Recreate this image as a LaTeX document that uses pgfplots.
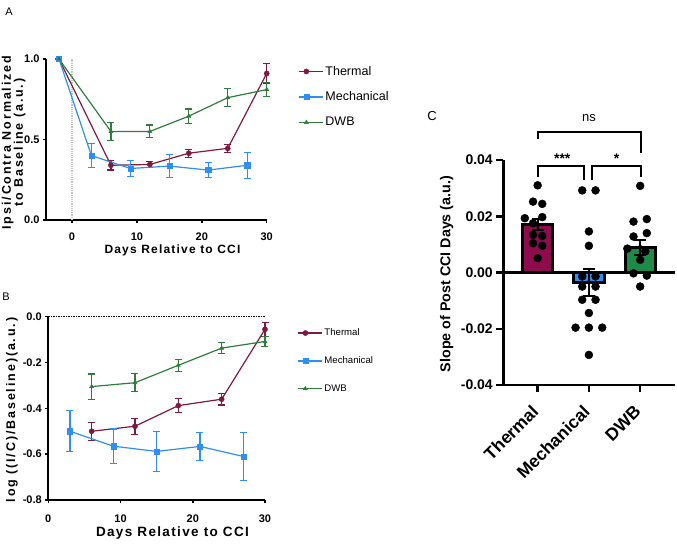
\documentclass[border=0pt]{standalone}
\usepackage{pgfplots}
\pgfplotsset{compat=1.18}
\usepackage{fontspec}
\setmainfont{Liberation Sans}
\newfontfamily\spaced[LetterSpace=15]{Liberation Sans}
\newfontfamily\spacedx[LetterSpace=10]{Liberation Sans}
\definecolor{therm}{HTML}{7D1A3F}
\definecolor{mech}{HTML}{2F8FF0}
\definecolor{dwb}{HTML}{2E7D3C}
\definecolor{thermfill}{HTML}{8E0C4E}
\definecolor{dwbfill}{HTML}{1E8A48}
\pgfplotsset{
  prism/.style={
    scale only axis,
    axis x line*=bottom, axis y line*=left,
    axis line style={line width=2pt, -},
    tick style={line width=1.5pt, black},
    tick align=outside,
    major tick length=3pt,
    /pgf/number format/assume math mode=true,
    ticklabel style={font=\bfseries\fontsize{11}{12}\selectfont},
    clip=false,
  },
  errs/.style={error bars/.cd, y dir=both, y explicit,
    error bar style={line width=1.2pt, color=#1},
    error mark options={rotate=90, mark size=3.5pt, line width=1.2pt, color=#1}},
  thermal/.style={color=therm, line width=1.2pt, mark=*, mark size=2.6pt, mark options={solid, line width=0.4pt}, errs=therm},
  mechanical/.style={color=mech, line width=1.2pt, mark=square*, mark size=2.6pt, mark options={solid, line width=0.4pt}, errs=mech},
  dwbs/.style={color=dwb, line width=1.2pt, mark=triangle*, mark size=2.4pt, mark options={solid, line width=0.4pt}, errs=dwb},
  legimg/.style={legend image code/.code={\draw[mark repeat=2,mark phase=2,##1] plot coordinates {(0pt,0pt) (7.5pt,0pt) (15pt,0pt)}; \path (0pt,0pt) -- (24pt,0pt);}},
}
\begin{document}
\begin{tikzpicture}
\useasboundingbox (0,0) rectangle (677pt,-544pt);
\node[anchor=center, font=\fontsize{11}{12}\selectfont] at (9pt,-12pt) {A};
\node[anchor=center, font=\fontsize{11}{12}\selectfont] at (6pt,-297pt) {B};
\node[anchor=center, font=\fontsize{13}{14}\selectfont] at (432pt,-116pt) {C};

% ---------- Panel A ----------
\begin{axis}[prism, at={(46pt,-220pt)}, anchor=south west, width=220.7pt, height=161pt,
  xmin=-4, xmax=30, ymin=0, ymax=1, xtick={0,10,20,30}, ytick={0,0.5,1},
  yticklabel style={/pgf/number format/fixed, /pgf/number format/fixed zerofill, /pgf/number format/precision=1},
  xticklabel style={yshift=-6pt},
  xlabel={Days Relative to CCI},
  xlabel style={at={(axis description cs:0.573,-0.186)}, anchor=center, font={\spacedx\bfseries\fontsize{12}{13}\selectfont}},
  ylabel={Ipsi/Contra Normalized\\to Baseline (a.u.)},
  ylabel style={at={(axis description cs:-0.147,0.481)}, anchor=center, align=center, font={\spaced\bfseries\fontsize{12.5}{12}\selectfont}},
  legimg, legend cell align=left,
  legend style={at={(axis description cs:1.142,0.969)}, anchor=north west, draw=none, fill=none, inner sep=0pt, row sep=11pt, font=\fontsize{12.5}{14}\selectfont},
]
\addplot[densely dotted, color=gray!45, line width=1.2pt, forget plot] coordinates {(0,0) (0,1)};
\addplot[thermal] coordinates {(-2,1) +- (0,0) (6,0.34) +- (0,0.03) (12,0.345) +- (0,0.02) (18,0.415) +- (0,0.025) (24,0.445) +- (0,0.025) (30,0.91) +- (0,0.06)};
\addlegendentry{Thermal}
\addplot[mechanical] coordinates {(-2,1) +- (0,0) (3,0.40) +- (0,0.075) (9,0.32) +- (0,0.05) (15,0.335) +- (0,0.07) (21,0.31) +- (0,0.045) (27,0.34) +- (0,0.08)};
\addlegendentry{Mechanical}
\addplot[dwbs] coordinates {(-2,1) +- (0,0) (6,0.55) +- (0,0.055) (12,0.55) +- (0,0.04) (18,0.645) +- (0,0.045) (24,0.76) +- (0,0.055) (30,0.81) +- (0,0.045)};
\addlegendentry{DWB}
\end{axis}

% ---------- Panel B ----------
\begin{axis}[prism, at={(48.3pt,-500pt)}, anchor=south west, width=216.7pt, height=183.3pt,
  xmin=0, xmax=30, ymin=-0.8, ymax=0, xtick={0,10,20,30}, ytick={-0.8,-0.6,-0.4,-0.2,0},
  yticklabel style={/pgf/number format/fixed, /pgf/number format/fixed zerofill, /pgf/number format/precision=1},
  xticklabel style={yshift=-8pt},
  xlabel={Days Relative to CCI},
  xlabel style={at={(axis description cs:0.573,-0.18)}, anchor=center, font={\spacedx\bfseries\fontsize{13.5}{14}\selectfont}},
  ylabel={log ((I/C)/Baseline)(a.u.)},
  ylabel style={at={(axis description cs:-0.1675,0.491)}, anchor=center, font={\spaced\bfseries\fontsize{12.5}{13}\selectfont}},
  legimg, legend cell align=left,
  legend style={at={(axis description cs:1.148,0.946)}, anchor=north west, draw=none, fill=none, inner sep=0pt, row sep=15.5pt, font=\fontsize{9.6}{11}\selectfont},
]
\addplot[densely dotted, black, line width=1.5pt, forget plot] coordinates {(0,0) (30,0)};
\addplot[thermal] coordinates {(6,-0.50) +- (0,0.04) (12,-0.478) +- (0,0.035) (18,-0.388) +- (0,0.03) (24,-0.36) +- (0,0.025) (30,-0.055) +- (0,0.03)};
\addlegendentry{Thermal}
\addplot[mechanical] coordinates {(3,-0.50) +- (0,0.09) (9,-0.565) +- (0,0.075) (15,-0.588) +- (0,0.088) (21,-0.566) +- (0,0.062) (27,-0.61) +- (0,0.105)};
\addlegendentry{Mechanical}
\addplot[dwbs] coordinates {(6,-0.305) +- (0,0.055) (12,-0.288) +- (0,0.04) (18,-0.212) +- (0,0.027) (24,-0.137) +- (0,0.025) (30,-0.108) +- (0,0.022)};
\addlegendentry{DWB}
\end{axis}

% ---------- Panel C ----------
\begin{axis}[prism, at={(503.3pt,-385pt)}, anchor=south west, width=171.7pt, height=225pt,
  xmin=-0.67, xmax=2.68, ymin=-0.04, ymax=0.04,
  xtick={0,1,2}, xticklabels={Thermal,Mechanical,DWB},
  ytick={-0.04,-0.02,0,0.02,0.04}, scaled y ticks=false,
  axis line style={line width=2.5pt, -}, tick style={line width=2.5pt, black}, major tick length=7pt,
  yticklabel style={font=\bfseries\fontsize{14}{15}\selectfont, /pgf/number format/fixed, /pgf/number format/fixed zerofill, /pgf/number format/precision=2},
  xticklabel style={yshift=-14pt, rotate=45, anchor=east, font=\bfseries\fontsize{17.5}{18}\selectfont},
  ylabel={Slope of Post CCI Days (a.u.)},
  ylabel style={at={(axis description cs:-0.33,0.493)}, anchor=center, font=\bfseries\fontsize{14.3}{16}\selectfont},
]
\addplot[ybar, bar width=0.59, bar shift=0pt, fill=thermfill, draw=black, line width=3pt] coordinates {(0,0.017)};
\addplot[ybar, bar width=0.59, bar shift=0pt, fill=mech, draw=black, line width=3pt] coordinates {(1,-0.0035)};
\addplot[ybar, bar width=0.59, bar shift=0pt, fill=dwbfill, draw=black, line width=3pt] coordinates {(2,0.009)};
\addplot[black, line width=2.5pt, forget plot] coordinates {(-0.67,0) (2.68,0)};
\addplot[only marks, mark=*, mark size=4pt, black] coordinates {
 (0,0.031) (-0.09,0.0252) (0.09,0.0244) (-0.25,0.0193) (0.09,0.0197) (-0.09,0.0175)
 (-0.09,0.0134) (0.09,0.013) (-0.09,0.0104) (0.09,0.0095) (0,0.0051)
 (0.87,0.0292) (1.13,0.0292) (1,0.0146) (1,0.0095) (0.87,-0.0014) (1.13,-0.0014)
 (0.87,-0.005) (1.13,-0.005) (0.87,-0.0097) (1.13,-0.0097) (1,-0.0144)
 (0.74,-0.0196) (1,-0.0196) (1.26,-0.0196) (1,-0.0293)
 (2,0.0308) (1.87,0.0181) (2.13,0.019) (1.87,0.0128) (2.13,0.014) (1.75,0.0085)
 (2.1,0.0075) (2,0.0045) (1.87,-0.0003) (2.13,-0.0011) (2,-0.005)};
\addplot[only marks, mark=none, black, error bars/.cd, y dir=both, y explicit,
  error bar style={line width=2pt, black}, error mark options={rotate=90, mark size=6pt, line width=2pt, black}]
  coordinates {(0,0.017) +- (0,0.002) (1,-0.0035) +- (0,0.0048) (2,0.009) +- (0,0.0026)};
\draw[line width=2pt, line join=miter] (axis cs:0,0.0475) -- (axis cs:0,0.0501) -- (axis cs:2.01,0.0501) -- (axis cs:2.01,0.0425);
\draw[line width=2pt, line join=miter] (axis cs:0,0.0341) -- (axis cs:0,0.038) -- (axis cs:0.91,0.038) -- (axis cs:0.91,0.033);
\draw[line width=2pt, line join=miter] (axis cs:1.07,0.033) -- (axis cs:1.07,0.038) -- (axis cs:2.01,0.038) -- (axis cs:2.01,0.0341);
\node[font=\fontsize{13}{14}\selectfont] at (axis cs:1,0.0548) {ns};
\node[font=\bfseries\fontsize{14}{15}\selectfont] at (axis cs:0.48,0.0405) {***};
\node[font=\bfseries\fontsize{14}{15}\selectfont] at (axis cs:1.54,0.0405) {*};
\end{axis}
\end{tikzpicture}
\end{document}
